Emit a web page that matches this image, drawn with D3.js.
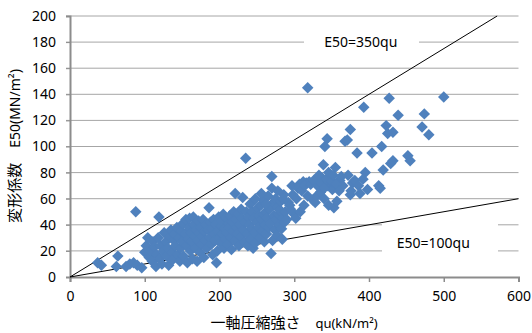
<!DOCTYPE html>
<html>
<head>
<meta charset="utf-8">
<script src="https://cdn.jsdelivr.net/npm/d3@7"></script>
<style>
  body { margin: 0; background: #fff; }
  svg text { font-family: "Noto Sans", "Noto Sans CJK JP", sans-serif; fill: #000; }
</style>
</head>
<body>
<div id="chart"></div>
<script>
// unconfined compression strength qu (kN/m2) and modulus E50 (MN/m2)
var quValues = [
  37, 42, 62, 64, 75, 80, 85, 90, 96, 88, 119,
  100, 102, 104, 106, 108, 110, 111, 113, 115, 116, 118, 120, 121, 123, 125, 126, 128, 129,
  131, 132, 133, 135, 136, 137, 139, 140, 141, 143, 144, 146, 147, 148, 149, 150,
  151, 152, 154, 155, 156, 157, 158, 159, 160, 161, 162, 163, 164, 165, 166, 167, 168, 169,
  170, 171, 172, 173, 174, 175, 176, 177, 178, 179, 180, 181, 182, 183, 185, 186, 187, 188,
  189, 190, 191, 192, 193, 194, 195, 196, 197, 198, 199, 200, 201, 202, 203, 204, 205, 206,
  207, 208, 209, 210, 211, 212, 213, 214, 215, 216, 217, 218, 219, 220, 221, 222, 223, 224,
  225, 226, 227, 228, 229, 230, 231, 232, 233, 234, 235, 236, 237, 238, 239, 240, 241, 242,
  243, 244, 245, 246, 247, 248, 250, 251, 252, 253, 254, 255, 256, 257, 258, 259, 260, 261,
  262, 263, 264, 265, 266, 267, 268, 269, 270, 270, 271, 272, 273, 274, 275, 276, 277, 278,
  279, 280, 281, 282, 283, 284, 285, 286, 287, 288, 290, 292, 294, 297, 298, 300, 303, 307,
  312, 316, 320, 325, 328, 330, 318, 335, 337, 339, 341, 344, 345, 348, 351, 353, 355, 358,
  361, 365, 368, 371, 375, 375, 378, 381, 384, 388, 393, 395, 404, 413, 415, 417, 419, 423,
  425, 427, 429, 432, 432, 439, 452, 455, 471, 474, 480, 500,
  305, 310, 314, 322, 326, 331, 333, 336, 340, 343, 346, 350, 352, 356, 360, 363, 340, 346, 357,
  372, 376, 386, 392, 398, 295, 302, 308, 313, 318, 248, 256, 262, 278, 285
];
var e50Values = [
  11, 9, 8, 16, 8, 10, 11, 9, 7, 50, 46,
  19, 24, 30, 15, 20, 12, 27, 23, 8, 17, 30, 14, 24, 10, 20, 34, 27, 16,
  22, 9, 31, 36, 19, 13, 28, 33, 24, 38, 17, 30, 12, 22, 35, 27,
  41, 16, 33, 44, 24, 11, 29, 38, 45, 20, 34, 27, 14, 46, 40, 31, 22, 36,
  12, 28, 43, 34, 19, 38, 25, 31, 44, 15, 35, 28, 40, 22, 36, 53, 30, 42,
  25, 37, 17, 44, 33, 28, 40, 11, 20, 35, 46, 30, 26, 39, 43, 33, 48, 22,
  37, 29, 45, 34, 25, 41, 38, 47, 30, 21, 42, 35, 50, 28, 64, 44, 38, 33,
  48, 24, 40, 31, 52, 45, 61, 36, 27, 42, 91, 50, 33, 24, 46, 40, 56, 29,
  37, 50, 22, 45, 34, 26, 42, 53, 38, 47, 30, 55, 44, 35, 59, 48, 27, 40,
  50, 33, 45, 62, 38, 52, 41, 18, 77, 68, 28, 57, 47, 36, 60, 44, 32, 53,
  48, 40, 51, 58, 37, 29, 45, 63, 42, 50, 44, 57, 55, 70, 63, 48, 60, 71,
  73, 72, 73, 59, 57, 62, 145, 65, 76, 86, 100, 106, 70, 76, 67, 53, 84, 73,
  74, 70, 104, 105, 113, 63, 72, 74, 95, 64, 130, 80, 95, 70, 68, 100, 82, 116,
  110, 137, 87, 111, 89, 124, 93, 89, 115, 125, 109, 138,
  68, 66, 70, 71, 74, 70, 78, 72, 68, 75, 80, 73, 78, 71, 66, 77, 60, 55, 58,
  78, 66, 70, 75, 67, 52, 45, 50, 55, 62, 60, 64, 56, 66, 60
];
var xTicks = [0, 100, 200, 300, 400, 500, 600];
var yTicks = [0, 20, 40, 60, 80, 100, 120, 140, 160, 180, 200];
var lineFactors = [0.35, 0.1];   // E50 = 350qu, E50 = 100qu (MN vs kN)
var lineLabels = ["E50=350qu", "E50=100qu"];

var width = 532, height = 333;

var svg = d3.select("#chart")
    .append("svg")
    .attr("width", width)
    .attr("height", height);

var x = d3.scaleLinear().domain([0, 600]).range([70, 518.5]);
var y = d3.scaleLinear().domain([0, 200]).range([277, 16]);

// gridlines
svg.append("g")
    .selectAll("line")
    .data(yTicks.slice(1))
    .enter().append("line")
    .attr("x1", x(0) - 4)
    .attr("x2", x(600))
    .attr("y1", function (d) { return y(d); })
    .attr("y2", function (d) { return y(d); })
    .attr("stroke", "#a6a6a6")
    .attr("stroke-width", 1);

// x axis
var xAxis = svg.append("g")
    .attr("transform", "translate(0," + y(0) + ")")
    .call(d3.axisBottom(x).tickValues(xTicks).tickSize(5).tickPadding(9));
xAxis.select(".domain").attr("stroke", "#8c8c8c").attr("stroke-width", 2);
xAxis.selectAll(".tick line").attr("stroke", "#8c8c8c").attr("stroke-width", 1.5);
xAxis.selectAll("text").attr("font-size", "14px").attr("fill", "#000");

// y axis
var yAxis = svg.append("g")
    .attr("transform", "translate(" + x(0) + ",0)")
    .call(d3.axisLeft(y).tickValues(yTicks).tickSize(4).tickPadding(10));
yAxis.select(".domain").attr("stroke", "#8c8c8c").attr("stroke-width", 2);
yAxis.selectAll(".tick line").attr("stroke", "#8c8c8c");
yAxis.selectAll("text").attr("font-size", "14px").attr("fill", "#000");

// white label boxes over the grid
var labelPos = [{ qu: 389, e: 180 }, { qu: 486, e: 26 }];
var boxes = svg.append("g");
boxes.append("rect")
    .attr("x", 304).attr("y", 30).attr("width", 115).attr("height", 24)
    .attr("fill", "#fff");
boxes.append("rect")
    .attr("x", 382).attr("y", 224).attr("width", 116).attr("height", 38)
    .attr("fill", "#fff");

// reference lines
svg.append("g")
    .selectAll("line")
    .data(lineFactors)
    .enter().append("line")
    .attr("x1", x(0))
    .attr("y1", y(0))
    .attr("x2", function (k) { return x(Math.min(600, 200 / k)); })
    .attr("y2", function (k) { return y(Math.min(600, 200 / k) * k); })
    .attr("stroke", "#000")
    .attr("stroke-width", 1);

svg.append("g")
    .selectAll("text")
    .data(lineLabels)
    .enter().append("text")
    .attr("x", function (d, i) { return x(labelPos[i].qu); })
    .attr("y", function (d, i) { return y(labelPos[i].e); })
    .attr("dy", "0.35em")
    .attr("text-anchor", "middle")
    .attr("font-size", "14px")
    .text(function (d) { return d; });

// points
var points = d3.range(quValues.length).map(function (i) {
    return { qu: quValues[i], e: e50Values[i] };
});
svg.append("g")
    .selectAll("path")
    .data(points)
    .enter().append("path")
    .attr("d", d3.symbol(d3.symbolSquare, 66))
    .attr("transform", function (d) {
        return "translate(" + x(d.qu) + "," + y(d.e) + ") rotate(45)";
    })
    .attr("fill", "#4f81bd");

// axis titles
var yTitle = svg.append("text")
    .attr("transform", "translate(20,146) rotate(-90)")
    .attr("text-anchor", "middle")
    .attr("font-size", "15px");
yTitle.append("tspan").attr("font-family", "Noto Sans CJK JP").text("変形係数　");
yTitle.append("tspan").attr("font-size", "14px").text("E50(MN/m²)");

var xTitle = svg.append("text")
    .attr("x", 294)
    .attr("y", 328)
    .attr("text-anchor", "middle")
    .attr("font-size", "15px");
xTitle.append("tspan").attr("font-family", "Noto Sans CJK JP").text("一軸圧縮強さ　");
xTitle.append("tspan").attr("font-size", "13px").text("qu(kN/m²)");
</script>
</body>
</html>
